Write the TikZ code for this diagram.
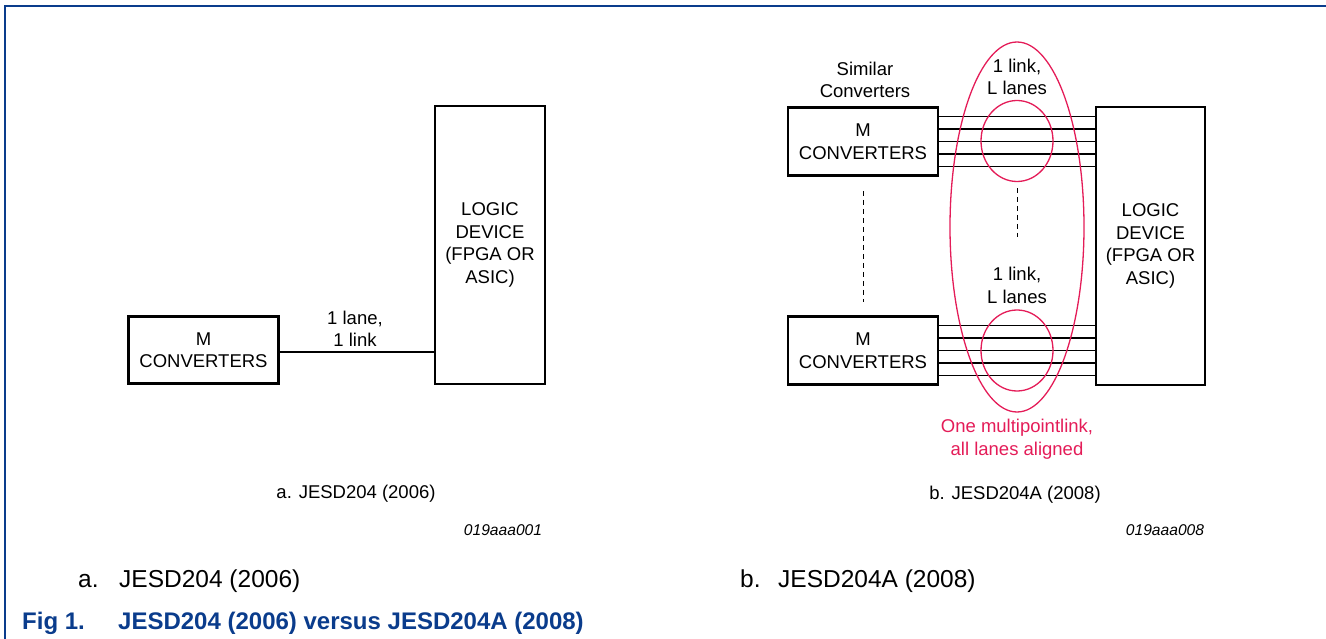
\documentclass[tikz,border=0pt]{standalone}
\usepackage{fontspec}
\setmainfont{Liberation Sans}
\usetikzlibrary{shapes.geometric}
\definecolor{figblue}{RGB}{10,60,140}
\definecolor{linkred}{RGB}{228,28,88}
\tikzset{
  dtext/.style={font=\fontsize{18.5}{22.5}\selectfont, align=center, inner sep=0pt},
  box/.style={draw, line width=2.3pt, inner sep=0pt, dtext},
  lane/.style={line width=1.1pt},
  dashv/.style={line width=1pt, dash pattern=on 5pt off 4pt},
  ring/.style={draw=linkred, line width=1.3pt, ellipse, inner sep=0pt},
  redtext/.style={dtext, text=linkred},
  code/.style={font=\fontsize{15.6}{18}\selectfont\itshape, inner sep=0pt},
  capt/.style={font=\fontsize{24.5}{28}\selectfont, anchor=base west, inner sep=0pt},
  figt/.style={font=\fontsize{24}{28}\selectfont\bfseries, text=figblue, anchor=base west, inner sep=0pt}
}
\begin{document}
\begin{tikzpicture}[x=1pt,y=-1pt]
\useasboundingbox (0,0) rectangle (1326,639);
% frame
\draw[figblue, line width=1.5pt] (5,639) -- (5,6) -- (1326,6);

% ---- panel a ----
\node[box, minimum width=150pt, minimum height=67pt] (ma) at (203.5,350) {M\\CONVERTERS};
\node[box, minimum width=110pt, minimum height=278pt] (lda) at (490,245) {LOGIC\\DEVICE\\(FPGA OR\\ASIC)};
\draw[lane] (ma.east |- 0,352) -- (lda.west |- 0,352);
\node[dtext] (lanelbl) at (355,329) {1 lane,\\1 link};
\node[dtext] (capa) at (356,494) {a. JESD204 (2006)};
\node[code] (codea) at (503,530) {019aaa001};

% ---- panel b ----
\node[dtext] (sim) at (865,80) {Similar\\Converters};
\node[box, minimum width=150pt, minimum height=68pt] (mb1) at (863,141.5) {M\\CONVERTERS};
\node[box, minimum width=150pt, minimum height=68pt] (mb2) at (863,350.5) {M\\CONVERTERS};
\node[box, minimum width=109pt, minimum height=278pt] (ldb) at (1150.5,246) {LOGIC\\DEVICE\\(FPGA OR\\ASIC)};
\foreach \d in {-25,-12.5,0,12.5,25} {
  \draw[lane] ([yshift=\d pt]mb1.east) -- ([yshift=\d pt]mb1.east -| ldb.west);
  \draw[lane] ([yshift=\d pt]mb2.east) -- ([yshift=\d pt]mb2.east -| ldb.west);
}
\node[ring, minimum width=72pt, minimum height=81pt] (r1) at (1017,141) {};
\node[ring, minimum width=72pt, minimum height=81pt] (r2) at (1017,350.5) {};
\node[ring, minimum width=134pt, minimum height=370pt] (big) at (1017,227) {};
\node[dtext] (l1) at (1017,77) {1 link,\\L lanes};
\node[dtext] (l2) at (1017,285.5) {1 link,\\L lanes};
\coordinate (d1a) at (863,191);
\coordinate (d1b) at (863,302);
\coordinate (d2a) at (1017,188);
\coordinate (d2b) at (1017,237);
\draw[dashv] (d1a) -- (d1b);
\draw[dashv] (d2a) -- (d2b);
\node[redtext] (mpl) at (1017,439) {One multipointlink,\\all lanes aligned};
\node[dtext] (capb) at (1015,495) {b. JESD204A (2008)};
\node[code] (codeb) at (1165,530) {019aaa008};

% ---- figure captions ----
\node[capt] (suba) at (78,587) {\makebox[41pt][l]{a.}JESD204 (2006)};
\node[capt] (subb) at (740,587) {\makebox[38pt][l]{b.}JESD204A (2008)};
\node[figt] (fig) at (22,629) {\makebox[96pt][l]{Fig 1.}JESD204 (2006) versus JESD204A (2008)};
\end{tikzpicture}
\end{document}
